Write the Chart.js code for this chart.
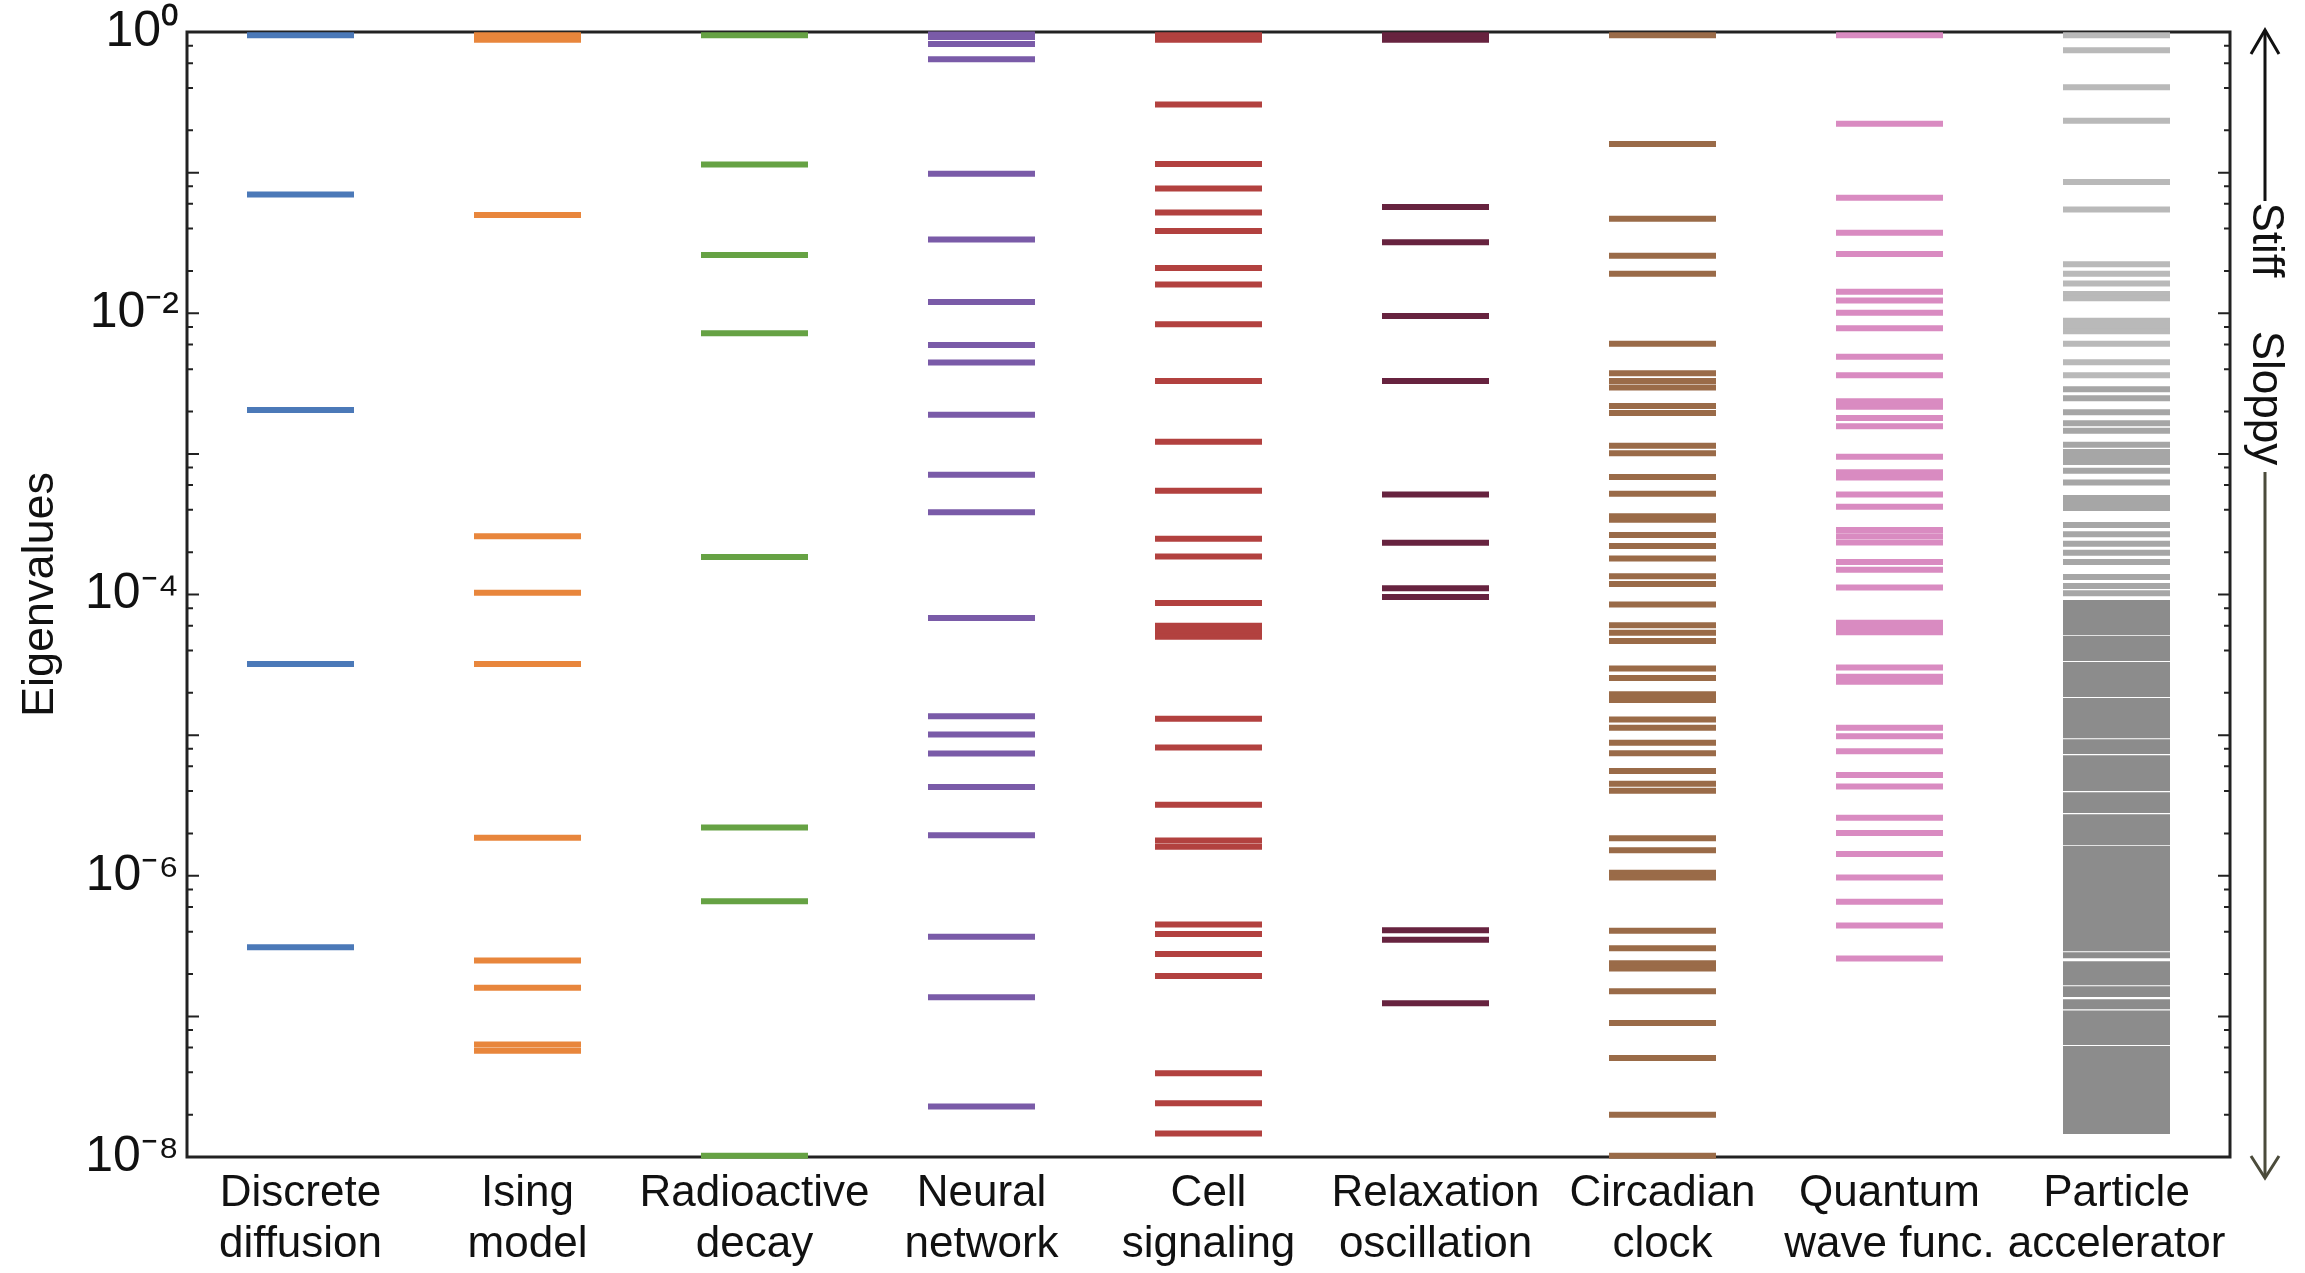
<!DOCTYPE html>
<html>
<head>
<meta charset="utf-8">
<script src="https://cdn.jsdelivr.net/npm/chart.js@4.4.1/dist/chart.umd.min.js"></script>
<style>
  html, body { margin: 0; padding: 0; background: #ffffff; }
  #wrap { width: 2305px; height: 1273px; position: relative; }
</style>
</head>
<body>
<div id="wrap"><canvas id="c" width="2305" height="1273"></canvas></div>
<script>
// ---------- DATA ----------
const categories = [
  ["Discrete", "diffusion"],
  ["Ising", "model"],
  ["Radioactive", "decay"],
  ["Neural", "network"],
  ["Cell", "signaling"],
  ["Relaxation", "oscillation"],
  ["Circadian", "clock"],
  ["Quantum", "wave func."],
  ["Particle", "accelerator"]
];

const discreteDiffusion = [0.95, 0.070, 0.00205, 3.2e-5, 3.1e-7];

const isingModel = [0.95, 0.88, 0.050, 2.6e-4, 1.03e-4, 3.2e-5, 1.86e-6, 2.5e-7, 1.6e-7, 6.3e-8, 5.7e-8];

const radioactiveDecay = [0.95, 0.114, 0.026, 0.0072, 1.85e-4, 2.2e-6, 6.6e-7, 1.02e-8];

const neuralNetwork = [0.96, 0.92, 0.82, 0.64, 0.098, 0.0335, 0.012, 0.00595, 0.00447, 0.0019,
  7.1e-4, 3.85e-4, 6.8e-5, 1.36e-5, 1.01e-5, 7.4e-6, 4.27e-6, 1.94e-6, 3.68e-7, 1.37e-7, 2.29e-8];

const cellSignaling = [0.95, 0.88, 0.305, 0.115, 0.0772, 0.0521, 0.0385, 0.021, 0.016, 0.00836,
  0.0033, 0.00122, 5.47e-4, 2.49e-4, 1.86e-4, 8.7e-5, 6.0e-5, 5.5e-5, 5.0e-5, 1.31e-5,
  8.15e-6, 3.2e-6, 1.78e-6, 1.61e-6, 4.5e-7, 3.86e-7, 2.78e-7, 1.94e-7, 3.94e-8, 2.41e-8, 1.47e-8];

const relaxationOscillation = [0.95, 0.88, 0.057, 0.032, 0.00955, 0.0033, 5.15e-4, 2.33e-4,
  1.11e-4, 9.6e-5, 4.1e-7, 3.5e-7, 1.24e-7];

const circadianClock = [0.95, 0.16, 0.047, 0.0256, 0.0191, 0.00606, 0.00375, 0.0033, 0.00297,
  0.00219, 0.00195, 0.00114, 0.00101, 6.84e-4, 5.21e-4, 3.6e-4, 3.4e-4, 2.65e-4, 2.21e-4, 1.8e-4,
  1.35e-4, 1.19e-4, 8.48e-5, 6.04e-5, 5.34e-5, 4.67e-5, 2.98e-5, 2.55e-5, 1.95e-5, 1.78e-5,
  1.29e-5, 1.13e-5, 8.83e-6, 7.43e-6, 5.56e-6, 4.51e-6, 4.02e-6, 1.85e-6, 1.52e-6, 1.05e-6,
  9.73e-7, 4.06e-7, 3.05e-7, 2.39e-7, 2.19e-7, 1.51e-7, 8.96e-8, 5.05e-8, 2.0e-8, 1.02e-8];

const quantumWaveFunc = [0.95, 0.223, 0.0664, 0.0373, 0.0264, 0.0142, 0.0123, 0.0101, 0.00782,
  0.00491, 0.00362, 0.00237, 0.00216, 0.0018, 0.00157, 9.55e-4, 7.4e-4, 6.8e-4, 5.15e-4, 4.21e-4,
  2.88e-4, 2.6e-4, 2.34e-4, 1.7e-4, 1.5e-4, 1.12e-4, 6.3e-5, 5.77e-5, 5.4e-5, 3.03e-5,
  2.6e-5, 2.4e-5, 1.13e-5, 9.82e-6, 7.67e-6, 5.2e-6, 4.32e-6, 2.58e-6, 2.01e-6, 1.43e-6,
  9.73e-7, 6.52e-7, 4.42e-7, 2.58e-7];

const particleAccelerator = [0.95, 0.741, 0.404, 0.234, 0.0857, 0.0547, 0.0223, 0.0191, 0.0163,
  0.0137, 0.0128, 0.00883, 0.00811, 0.00744, 0.00606, 0.00448, 0.00362, 0.00288, 0.00249, 0.00198,
  0.00165, 0.00146, 0.00116, 0.00103, 9.5e-4, 8.75e-4, 7.59e-4, 6.25e-4, 4.85e-4, 4.47e-4,
  4.12e-4, 3.12e-4, 2.68e-4, 2.3e-4, 1.98e-4, 1.7e-4, 1.33e-4, 1.15e-4, 1.02e-4,
  8.69e-5, 8.0e-5, 7.38e-5, 6.8e-5, 6.26e-5, 5.77e-5, 5.4e-5, 4.82e-5, 4.44e-5, 4.09e-5,
  3.77e-5, 3.53e-5, 3.15e-5, 2.9e-5, 2.67e-5, 2.46e-5, 2.27e-5, 2.09e-5, 1.96e-5, 1.75e-5,
  1.61e-5, 1.48e-5, 1.36e-5, 1.26e-5, 1.16e-5, 1.07e-5, 1.0e-5, 8.91e-6, 8.22e-6, 7.7e-6,
  6.86e-6, 6.32e-6, 5.82e-6, 5.37e-6, 4.95e-6, 4.56e-6, 4.2e-6, 3.74e-6, 3.45e-6, 3.18e-6,
  2.93e-6, 2.61e-6, 2.41e-6, 2.22e-6, 2.04e-6, 1.88e-6, 1.73e-6, 1.55e-6, 1.43e-6, 1.31e-6,
  1.21e-6, 1.11e-6, 1.03e-6, 9.46e-7, 8.71e-7, 8.03e-7, 7.4e-7, 6.82e-7, 6.28e-7, 5.78e-7,
  5.33e-7, 4.91e-7, 4.53e-7, 4.17e-7, 3.84e-7, 3.54e-7, 3.26e-7, 3.05e-7, 2.72e-7, 2.35e-7,
  2.17e-7, 2.0e-7, 1.84e-7, 1.75e-7, 1.56e-7, 1.44e-7, 1.26e-7, 1.18e-7, 1.05e-7, 9.71e-8,
  8.95e-8, 8.24e-8, 7.6e-8, 7.0e-8, 6.56e-8, 5.85e-8, 5.39e-8, 4.97e-8, 4.57e-8, 4.21e-8,
  3.88e-8, 3.57e-8, 3.3e-8, 3.03e-8, 2.8e-8, 2.58e-8, 2.38e-8, 2.19e-8, 2.01e-8, 1.86e-8,
  1.71e-8, 1.58e-8, 1.53e-8];

const seriesValues = [discreteDiffusion, isingModel, radioactiveDecay, neuralNetwork, cellSignaling,
  relaxationOscillation, circadianClock, quantumWaveFunc, particleAccelerator];

const seriesColors = ["#4b79b8", "#e8863c", "#66a244", "#7a5ba8", "#b2413f",
  "#67233f", "#9a6b48", "#d98bc1", "#9a9a9a"];

const yTickValues = [1, 1e-2, 1e-4, 1e-6, 1e-8];
const yTickLabels = ["10\u2070", "10\u207B\u00B2", "10\u207B\u2074", "10\u207B\u2076", "10\u207B\u2078"];
const yTitle = "Eigenvalues";
const sideLabels = ["Stiff", "Sloppy"];

// ---------- STYLE ----------
const FONT = "'Liberation Sans', Arial, Helvetica, sans-serif";

function particleColor(ctx) {
  const v = ctx.raw && ctx.raw.y;
  if (v > 3e-3) return "#b9b9b9";
  if (v > 1e-4) return "#a6a6a6";
  return "#8c8c8c";
}

const datasets = seriesValues.map((vals, i) => ({
  label: categories[i].join(" "),
  data: vals.map(v => ({ x: i, y: v })),
  pointStyle: "line",
  pointRadius: 53.5,
  pointHoverRadius: 53.5,
  pointBorderWidth: 6,
  pointHoverBorderWidth: 6,
  pointBorderColor: i === 8 ? particleColor : seriesColors[i],
  pointBackgroundColor: i === 8 ? particleColor : seriesColors[i],
  showLine: false,
  clip: false
}));

const framePlugin = {
  id: "frame",
  beforeDatasetsDraw(chart) {
    const { ctx, chartArea: a, scales: { y } } = chart;
    ctx.save();
    ctx.strokeStyle = "#222";
    ctx.lineWidth = 2;
    for (let d = 0; d >= -8; d--) {
      const py = y.getPixelForValue(Math.pow(10, d));
      ctx.beginPath();
      ctx.moveTo(a.left, py); ctx.lineTo(a.left + 12, py);
      ctx.moveTo(a.right, py); ctx.lineTo(a.right - 12, py);
      ctx.stroke();
      if (d > -8) {
        for (const m of [8, 6, 4, 2]) {
          const pm = y.getPixelForValue(m * Math.pow(10, d - 1));
          ctx.beginPath();
          ctx.moveTo(a.left, pm); ctx.lineTo(a.left + 6, pm);
          ctx.moveTo(a.right, pm); ctx.lineTo(a.right - 6, pm);
          ctx.stroke();
        }
      }
    }
    ctx.lineWidth = 3;
    ctx.strokeRect(a.left, a.top, a.right - a.left, a.bottom - a.top);
    ctx.restore();
  },
  afterDraw(chart) {
    const { ctx, chartArea: a } = chart;
    const ax = 2265;
    ctx.save();
    ctx.lineWidth = 3;
    ctx.lineCap = "butt";
    ctx.strokeStyle = "#111";
    ctx.beginPath();
    ctx.moveTo(ax, a.top - 2); ctx.lineTo(ax, 201);
    ctx.stroke();
    ctx.beginPath();
    ctx.moveTo(ax - 14, a.top + 22); ctx.lineTo(ax, a.top - 2); ctx.lineTo(ax + 14, a.top + 22);
    ctx.stroke();
    ctx.fillStyle = "#111";
    ctx.font = "44px " + FONT;
    ctx.textAlign = "center";
    ctx.textBaseline = "middle";
    ctx.save(); ctx.translate(ax, 240); ctx.rotate(Math.PI / 2); ctx.fillText(sideLabels[0], 0, 0); ctx.restore();
    ctx.save(); ctx.translate(ax, 398); ctx.rotate(Math.PI / 2); ctx.fillText(sideLabels[1], 0, 0); ctx.restore();
    ctx.strokeStyle = "#4b4b3b";
    ctx.beginPath();
    ctx.moveTo(ax, 472); ctx.lineTo(ax, 1178);
    ctx.stroke();
    ctx.beginPath();
    ctx.moveTo(ax - 14, 1156); ctx.lineTo(ax, 1178); ctx.lineTo(ax + 14, 1156);
    ctx.stroke();
    ctx.restore();
  }
};

new Chart(document.getElementById("c"), {
  type: "scatter",
  data: { datasets },
  options: {
    responsive: false,
    animation: false,
    events: [],
    layout: { autoPadding: false, padding: { left: 0, right: 75, top: 32, bottom: 0 } },
    plugins: { legend: { display: false }, tooltip: { enabled: false } },
    scales: {
      x: {
        type: "linear",
        min: -0.5,
        max: 8.5,
        afterBuildTicks: s => { s.ticks = categories.map((c, i) => ({ value: i })); },
        afterFit: s => { s.height = 116; s.paddingLeft = 0; s.paddingRight = 0; },
        grid: { display: false, drawTicks: false },
        border: { display: false },
        ticks: {
          autoSkip: false,
          maxRotation: 0,
          minRotation: 0,
          padding: 11,
          color: "#111",
          font: { family: FONT, size: 44, lineHeight: 1.17 },
          callback: v => categories[v]
        }
      },
      y: {
        type: "logarithmic",
        min: 1e-8,
        max: 1,
        afterBuildTicks: s => { s.ticks = yTickValues.map(v => ({ value: v })); },
        afterFit: s => { s.width = 187; s.paddingTop = 0; s.paddingBottom = 0; },
        grid: { display: false, drawTicks: false },
        border: { display: false },
        title: {
          display: true,
          text: yTitle,
          color: "#111",
          font: { family: FONT, size: 45 },
          padding: { top: 14, bottom: 0 }
        },
        ticks: {
          padding: 8,
          color: "#111",
          font: { family: FONT, size: 50 },
          callback: (v, i) => yTickLabels[i]
        }
      }
    }
  },
  plugins: [framePlugin]
});
</script>
</body>
</html>
